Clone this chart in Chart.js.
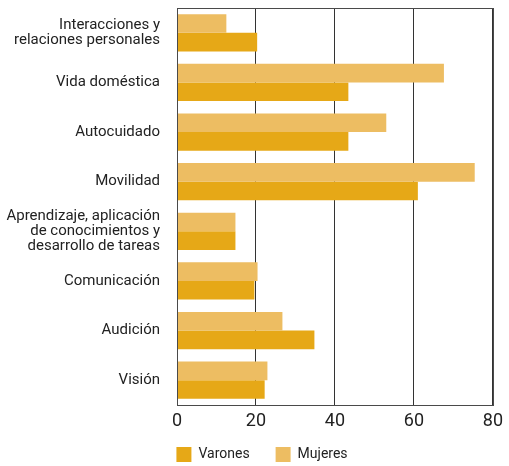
<!DOCTYPE html>
<html>
<head>
<meta charset="utf-8">
<script src="https://cdn.jsdelivr.net/npm/chart.js@4"></script>
<style>
  html, body { margin: 0; padding: 0; background: #fff; }
  #chart-container { width: 509px; height: 466px; }
</style>
</head>
<body>
<div id="chart-container"><canvas id="barChart"></canvas></div>
<script>
let categories = [
    ['Interacciones y', 'relaciones personales'],
    'Vida doméstica',
    'Autocuidado',
    'Movilidad',
    ['Aprendizaje, aplicación', 'de conocimientos y', 'desarrollo de tareas'],
    'Comunicación',
    'Audición',
    'Visión'
];
let mujeresData = [12.5, 67.6, 53.0, 75.4, 14.8, 20.4, 26.7, 22.9];
let varonesData = [20.3, 43.4, 43.4, 61.0, 14.8, 19.6, 34.8, 22.2];
let xTicks = [0, 20, 40, 60, 80];

const fontFamily = 'Roboto, sans-serif';

// box round the plot area
const frame = {
    id: 'frame',
    afterDatasetsDraw(chart) {
        const a = chart.chartArea, ctx = chart.ctx;
        ctx.save();
        ctx.strokeStyle = '#4a4a4a';
        ctx.lineWidth = 1;
        ctx.strokeRect(Math.round(a.left) + 0.5, Math.round(a.top) + 0.5,
            Math.round(a.right - a.left), Math.round(a.bottom - a.top));
        ctx.restore();
    }
};

// short legend box, then stretched upwards so the items sit where the original has them
const legendHeight = {
    id: 'legendHeight',
    beforeInit(chart) {
        const fit = chart.legend.fit;
        chart.legend.fit = function () {
            fit.bind(chart.legend)();
            this.height = 30;
        };
    },
    afterLayout(chart) {
        const lg = chart.legend;
        lg.top = lg.bottom - 45;
        lg.height = 45;
        lg.left += 13;
        lg.right += 13;
    }
};

var ctx = document.getElementById('barChart').getContext('2d');
var chart = new Chart(ctx, {
    type: 'bar',
    data: {
        labels: categories,
        datasets: [{
            label: 'Mujeres',
            backgroundColor: '#EDBD62',
            data: mujeresData
        }, {
            label: 'Varones',
            backgroundColor: '#E6A817',
            data: varonesData
        }]
    },
    options: {
        indexAxis: 'y',
        responsive: true,
        maintainAspectRatio: false,
        animation: false,
        layout: {
            padding: { top: 8, right: 11, left: 0, bottom: 0 }
        },
        datasets: {
            bar: { barPercentage: 1.0, categoryPercentage: 0.75 }
        },
        scales: {
            x: {
                min: 0,
                max: 80,
                afterBuildTicks: function (scale) {
                    scale.ticks = xTicks.map(v => ({ value: v }));
                },
                afterFit: function (scale) {
                    scale.height = 31;
                },
                grid: {
                    color: '#333',
                    lineWidth: 1,
                    drawTicks: false
                },
                border: { display: false },
                ticks: {
                    padding: 6,
                    color: '#222',
                    font: { family: fontFamily, size: 18 }
                }
            },
            y: {
                grid: { display: false },
                border: { display: false },
                afterFit: function (scale) {
                    scale.width = 177;
                    scale.paddingTop = 0;
                    scale.paddingBottom = 0;
                },
                ticks: {
                    autoSkip: false,
                    padding: 9,
                    color: '#222',
                    font: { family: fontFamily, size: 15, lineHeight: 1.0 }
                }
            }
        },
        plugins: {
            legend: {
                position: 'bottom',
                reverse: true,
                labels: {
                    boxWidth: 15,
                    boxHeight: 15,
                    padding: 26,
                    color: '#222',
                    font: { family: fontFamily, size: 14 }
                }
            },
            tooltip: { enabled: false }
        }
    },
    plugins: [frame, legendHeight]
});
</script>
</body>
</html>
